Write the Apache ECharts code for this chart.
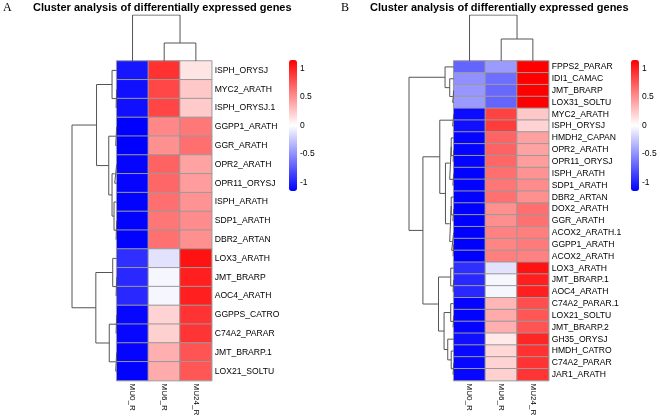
<!DOCTYPE html>
<html><head><meta charset="utf-8">
<script src="https://cdn.jsdelivr.net/npm/echarts@6/dist/echarts.min.js"></script>
<style>html,body{margin:0;padding:0;background:#fff}#c{width:660px;height:419px}</style>
</head><body><div id="c"></div>
<script>
// ---------- data ----------
const columns = ['MU0_R', 'MU6_R', 'MU24_R'];

const rowsA = ['ISPH_ORYSJ','MYC2_ARATH','ISPH_ORYSJ.1','GGPP1_ARATH','GGR_ARATH','OPR2_ARATH',
  'OPR11_ORYSJ','ISPH_ARATH','SDP1_ARATH','DBR2_ARTAN','LOX3_ARATH','JMT_BRARP','AOC4_ARATH',
  'GGPPS_CATRO','C74A2_PARAR','JMT_BRARP.1','LOX21_SOLTU'];
const valuesA = [
  [-1.05, 0.93, 0.12], [-1.08, 0.83, 0.25], [-1.08, 0.84, 0.24], [-1.15, 0.54, 0.61],
  [-1.15, 0.50, 0.65], [-1.13, 0.71, 0.42], [-1.13, 0.69, 0.44], [-1.14, 0.65, 0.49],
  [-1.14, 0.62, 0.52], [-1.14, 0.64, 0.50], [-0.94, -0.13, 1.07], [-0.97, -0.04, 1.01],
  [-0.97, -0.04, 1.01], [-1.12, 0.20, 0.92], [-1.12, 0.21, 0.91], [-1.13, 0.36, 0.77],
  [-1.14, 0.38, 0.76]];
// hclust-style merges: negative = leaf (1-based), positive = earlier merge (1-based), then height
const rowMergeA = [
  [-2, -3, 0.6], [-1, 1, 4.7], [-4, -5, 1.0], [-6, -7, 2.0], [-9, -10, 0.6], [-8, 5, 2.7],
  [4, 6, 4.7], [3, 7, 8.0], [2, 8, 20.3], [-12, -13, 0.6], [-11, 10, 4.0], [-14, -15, 0.6],
  [-16, -17, 1.0], [12, 13, 7.5], [11, 14, 21.0], [9, 15, 45]];
const colMergeA = [[-2, -3, 18], [-1, 1, 46]];

const rowsB = ['FPPS2_PARAR','IDI1_CAMAC','JMT_BRARP','LOX31_SOLTU','MYC2_ARATH','ISPH_ORYSJ',
  'HMDH2_CAPAN','OPR2_ARATH','OPR11_ORYSJ','ISPH_ARATH','SDP1_ARATH','DBR2_ARTAN','DOX2_ARATH',
  'GGR_ARATH','ACOX2_ARATH.1','GGPP1_ARATH','ACOX2_ARATH','LOX3_ARATH','JMT_BRARP.1','AOC4_ARATH',
  'C74A2_PARAR.1','LOX21_SOLTU','JMT_BRARP.2','GH35_ORYSJ','HMDH_CATRO','C74A2_PARAR','JAR1_ARATH'];
const valuesB = [
  [-0.70, -0.45, 1.15], [-0.50, -0.65, 1.15], [-0.47, -0.68, 1.15], [-0.45, -0.70, 1.15],
  [-1.10, 0.85, 0.25], [-1.08, 0.88, 0.20], [-1.13, 0.70, 0.43], [-1.13, 0.71, 0.42],
  [-1.13, 0.69, 0.44], [-1.14, 0.65, 0.49], [-1.14, 0.62, 0.52], [-1.14, 0.64, 0.50],
  [-1.15, 0.50, 0.65], [-1.15, 0.51, 0.64], [-1.15, 0.57, 0.58], [-1.15, 0.55, 0.60],
  [-1.15, 0.58, 0.57], [-0.94, -0.13, 1.07], [-0.97, -0.04, 1.01], [-0.97, -0.04, 1.01],
  [-1.13, 0.33, 0.80], [-1.14, 0.38, 0.76], [-1.13, 0.36, 0.77], [-1.08, 0.10, 0.98],
  [-1.11, 0.18, 0.93], [-1.12, 0.20, 0.92], [-1.12, 0.21, 0.91]];
const rowMergeB = [
  [-3, -4, 1.0], [-2, 1, 4.0], [-1, 2, 8.7], [-5, -6, 1.0], [-8, -9, 0.6], [-7, 5, 2.5],
  [-10, -11, 0.8], [6, 7, 4.0], [-13, -14, 0.8], [-12, 9, 2.5], [-16, -17, 0.6], [-15, 11, 2.0],
  [10, 12, 4.0], [8, 13, 8.3], [4, 14, 14], [-19, -20, 0.6], [-18, 16, 3.0], [-22, -23, 0.6],
  [-21, 18, 3.0], [-26, -27, 0.6], [-25, 20, 2.5], [-24, 21, 6.0], [19, 22, 9.7], [17, 23, 15.3],
  [15, 24, 31], [3, 25, 45]];
const colMergeB = [[-2, -3, 22], [-1, 1, 46]];

const legendTicks = [-1, -0.5, 0, 0.5, 1];
const zMin = -1.15, zMax = 1.15;
const titleText = 'Cluster analysis of differentially expressed genes';
const panelLetters = ['A', 'B'];

// ---------- helpers ----------
function dendroSegments(merge) {
  const pos = [], hgt = [], segs = [];
  const ref = r => r < 0 ? [(-r - 1) + 0.5, 0] : [pos[r - 1], hgt[r - 1]];
  merge.forEach((m, k) => {
    const a = ref(m[0]), b = ref(m[1]), h = m[2];
    pos[k] = (a[0] + b[0]) / 2; hgt[k] = h;
    segs.push([[a[0], a[1]], [a[0], h], [b[0], h], [b[0], b[1]]]);
  });
  return segs;
}
function heatData(vals) {
  const d = [];
  vals.forEach((r, i) => r.forEach((v, j) => d.push([j, i, v])));
  return d;
}
const FONT = 'Liberation Sans';
const lineStyle = { color: '#555555', width: 1 };

const panels = [
  { rows: rowsA, vals: valuesA, rm: rowMergeA, cm: colMergeA, hx: 116.7, dx: 72, cb: 289, tx: 33, lx: 3 },
  { rows: rowsB, vals: valuesB, rm: rowMergeB, cm: colMergeB, hx: 453.7, dx: 409, cb: 631, tx: 370, lx: 341 }
];

const grid = [], xAxis = [], yAxis = [], series = [], visualMap = [], title = [];
const TOP = 61, HH = 319.6, HW = 95;

panels.forEach((p, pi) => {
  const g0 = grid.length;
  const nR = p.rows.length;
  // heatmap grid
  grid.push({ left: p.hx, top: TOP, width: HW, height: HH });
  xAxis.push({ type: 'category', gridIndex: g0, data: columns, position: 'bottom',
    axisLine: { show: false }, axisTick: { show: false },
    axisLabel: { rotate: -90, fontSize: 8, margin: 3, color: '#000', fontFamily: FONT } });
  yAxis.push({ type: 'category', gridIndex: g0, data: p.rows, inverse: true, position: 'right',
    axisLine: { show: false }, axisTick: { show: false },
    axisLabel: { fontSize: 8.6, margin: 3, color: '#000', fontFamily: FONT } });
  // row dendrogram grid
  grid.push({ left: p.dx, top: TOP, width: p.hx - p.dx, height: HH });
  xAxis.push({ type: 'value', gridIndex: g0 + 1, min: 0, max: 45, inverse: true, show: false });
  yAxis.push({ type: 'value', gridIndex: g0 + 1, min: 0, max: nR, inverse: true, show: false });
  // column dendrogram grid
  grid.push({ left: p.hx, top: 15, width: HW, height: TOP - 15 });
  xAxis.push({ type: 'value', gridIndex: g0 + 2, min: 0, max: 3, show: false });
  yAxis.push({ type: 'value', gridIndex: g0 + 2, min: 0, max: 46, show: false });
  // colour bar label axis
  grid.push({ left: p.cb, top: 60, width: 8, height: 131 });
  xAxis.push({ type: 'value', gridIndex: g0 + 3, show: false });
  yAxis.push({ type: 'value', gridIndex: g0 + 3, min: zMin, max: zMax, position: 'right',
    axisLine: { show: false }, axisTick: { show: false }, splitLine: { show: false },
    axisLabel: { customValues: legendTicks, fontSize: 8.5, margin: 3, color: '#000', fontFamily: FONT } });

  p.g0 = g0;
  series.push({ type: 'heatmap', xAxisIndex: g0, yAxisIndex: g0, data: heatData(p.vals),
    itemStyle: { borderColor: '#9a9a9a', borderWidth: 1 }, emphasis: { disabled: true }, silent: true });

  visualMap.push({ type: 'continuous', seriesIndex: pi, min: zMin, max: zMax,
    inRange: { color: ['#0000FF', '#FFFFFF', '#FF0000'] },
    left: p.cb, top: 60, itemWidth: 8, itemHeight: 131, padding: 0,
    calculable: false, hoverLink: false });

  title.push({ text: titleText, left: p.tx, top: 2, padding: 0,
    textStyle: { fontSize: 11, fontWeight: 'bold', color: '#000', fontFamily: FONT } });
  title.push({ text: panelLetters[pi], left: p.lx, top: 2, padding: 0,
    textStyle: { fontSize: 12, fontWeight: 'normal', color: '#000', fontFamily: 'Liberation Serif' } });
});

panels.forEach(p => {
  dendroSegments(p.rm).forEach(seg => series.push({ type: 'line', xAxisIndex: p.g0 + 1, yAxisIndex: p.g0 + 1,
    data: seg.map(q => [q[1], q[0]]), symbol: 'none', lineStyle, silent: true }));
  dendroSegments(p.cm).forEach(seg => series.push({ type: 'line', xAxisIndex: p.g0 + 2, yAxisIndex: p.g0 + 2,
    data: seg.map(q => [q[0], q[1]]), symbol: 'none', lineStyle, silent: true }));
});

const chart = echarts.init(document.getElementById('c'), null, { renderer: 'canvas' });
chart.setOption({
  animation: false,
  backgroundColor: '#ffffff',
  textStyle: { fontFamily: FONT },
  title, grid, xAxis, yAxis, series, visualMap
});
</script>
</body></html>
